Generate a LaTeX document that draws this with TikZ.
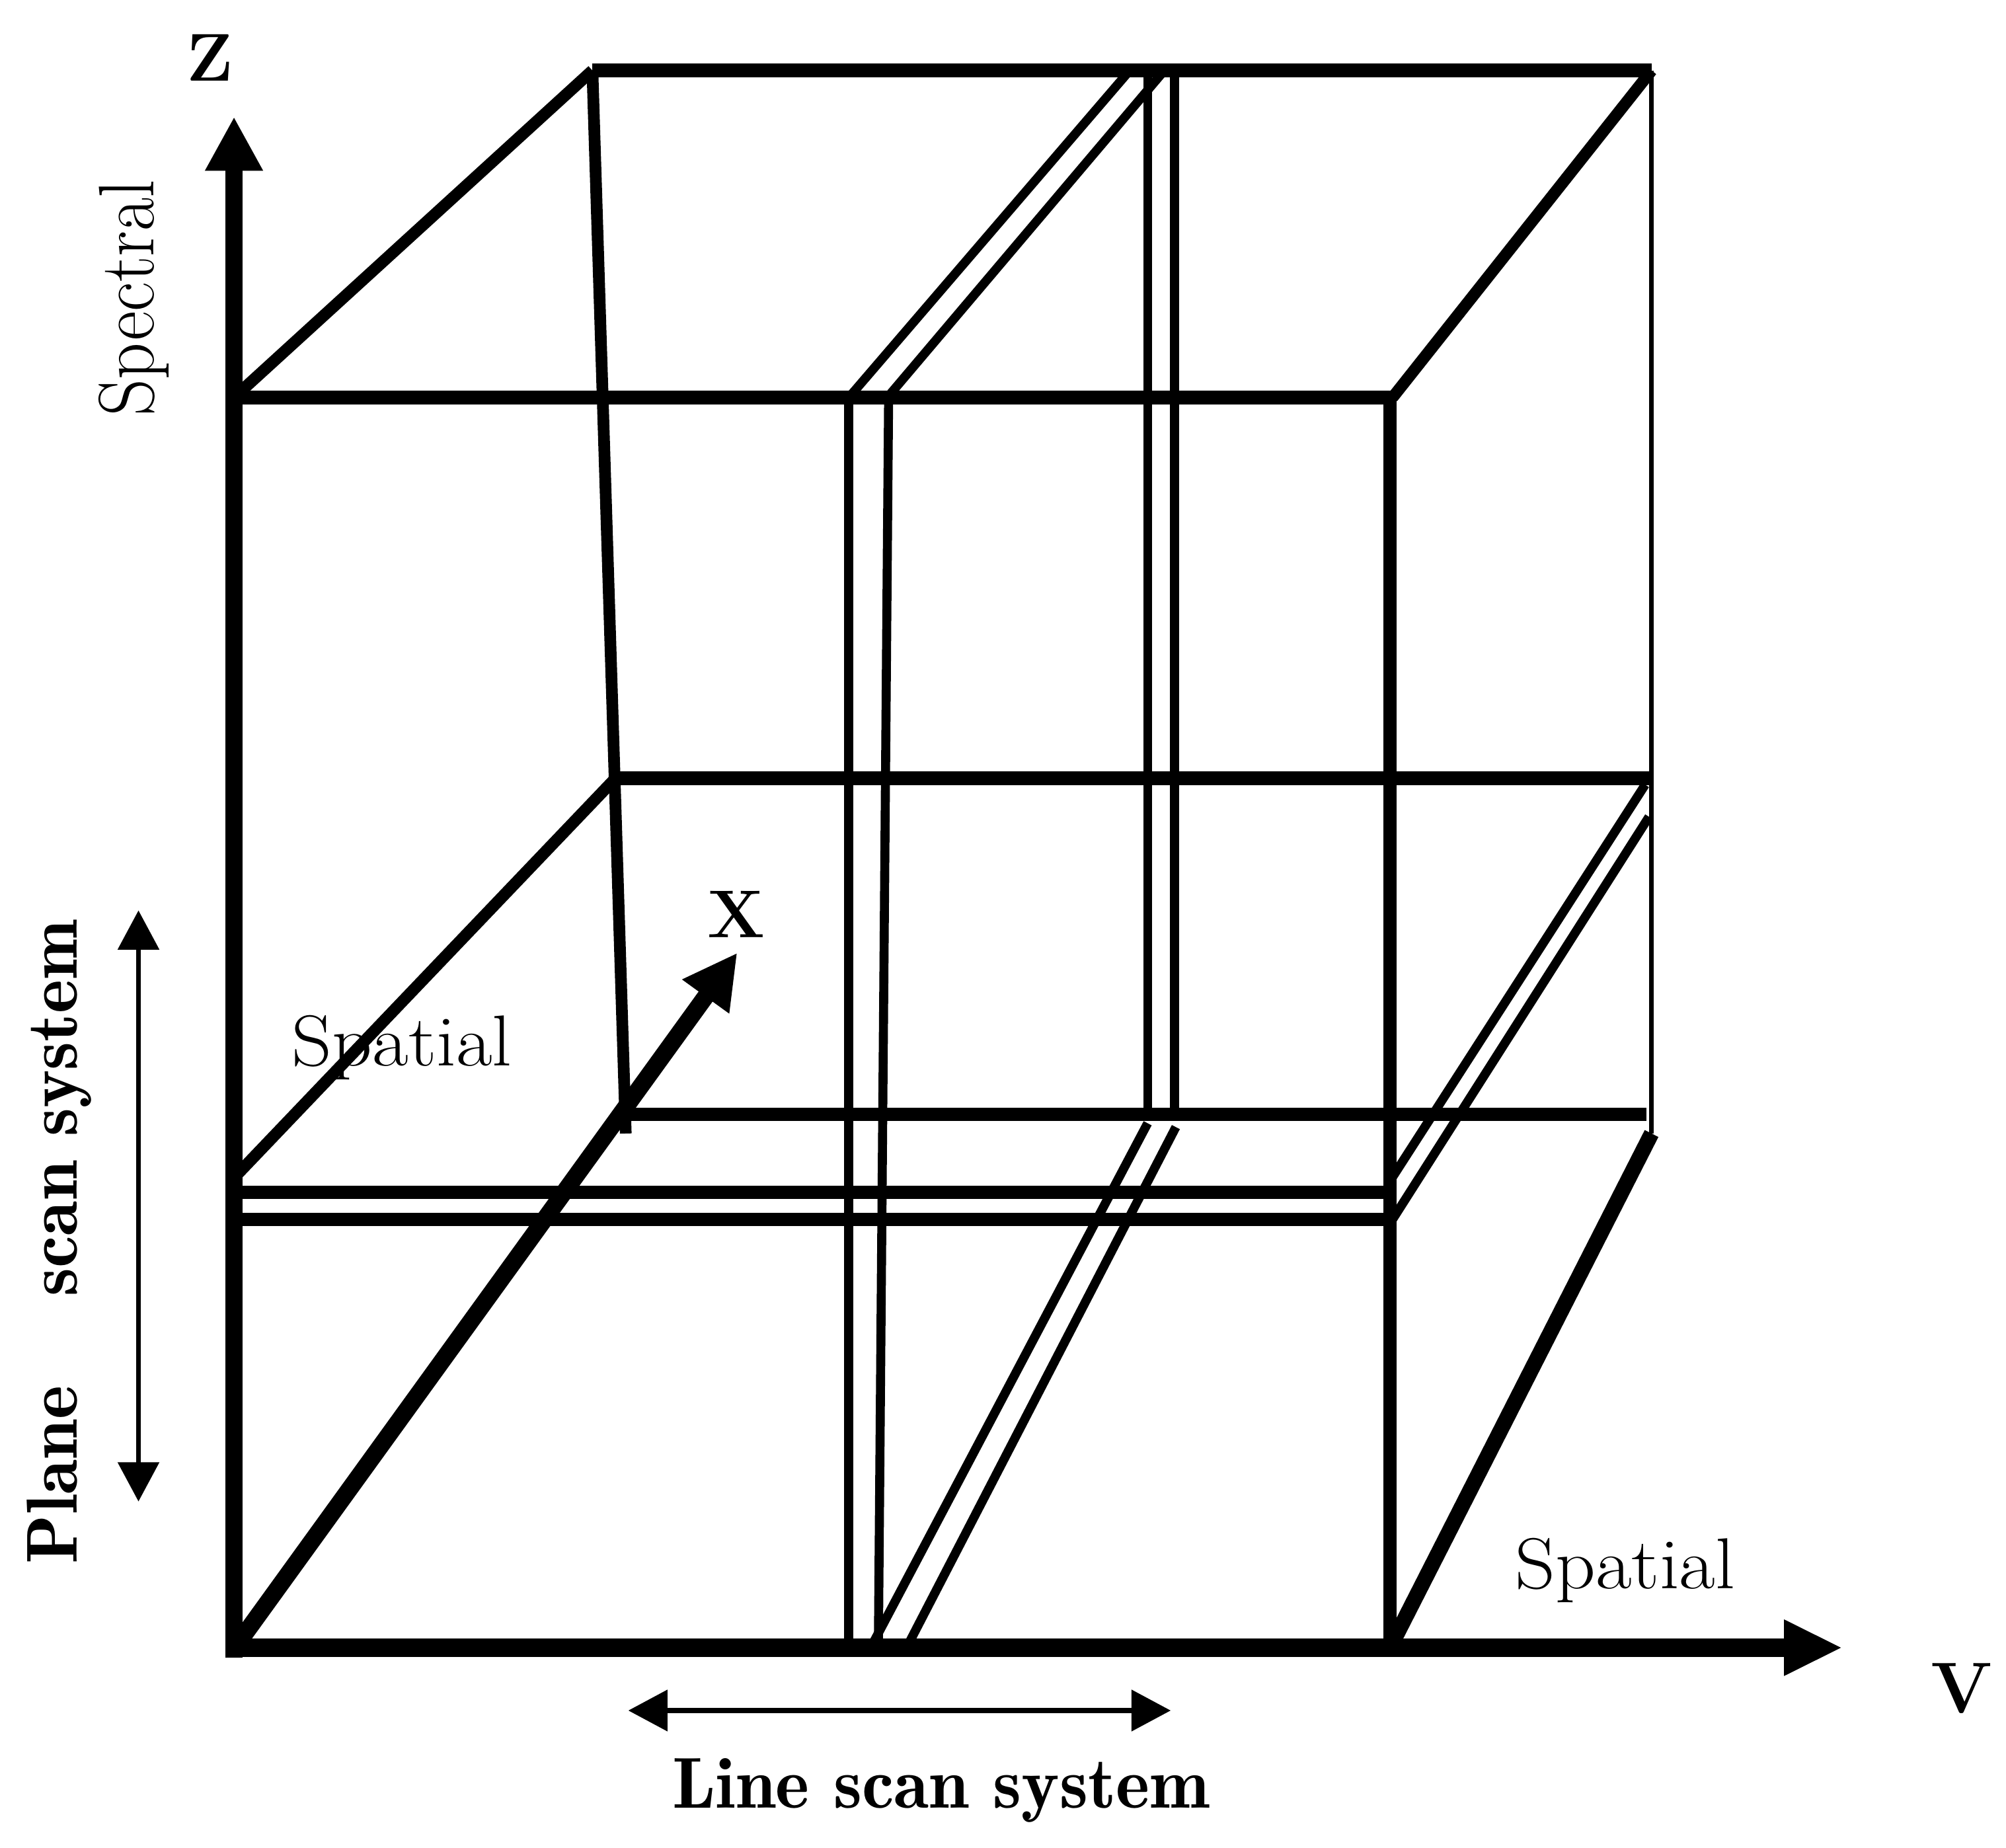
\documentclass[tikz,border=0pt]{standalone}
\usepackage{tikz}
\usetikzlibrary{arrows.meta}

\tikzset{
  axis/.style={line width=3.8pt, -{Triangle[length=12pt,width=12pt]}},
  heavy/.style={line width=3pt},
  slant/.style={line width=2.6pt},
  slice/.style={line width=2pt},
  scanarrow/.style={line width=1.1pt, {Triangle[length=8.7pt,width=9pt]}-{Triangle[length=8.7pt,width=9pt]}},
  lbl/.style={font=\fontsize{16}{19}\selectfont, inner sep=0pt, xscale=1.09},
  boldlbl/.style={font=\fontsize{16}{19}\fontseries{b}\selectfont, inner sep=0pt},
  axlbl/.style={font=\fontsize{15}{18}\selectfont\bfseries, inner sep=0pt}
}

\begin{document}
\begin{tikzpicture}[x=0.01cm, y=-0.01cm]
                \useasboundingbox (0,0) rectangle (1564.4,1441.2);

                % cube corners
                \coordinate (o) at (182.5,1285);
                \coordinate (ftl) at (182.5,310);
                \coordinate (ftr) at (1084,310);
                \coordinate (fbr) at (1084,1285);
                \coordinate (btl) at (462,55);
                \coordinate (btr) at (1288,55);
                \coordinate (bbr) at (1288,884);
                \coordinate (bbl) at (488,884);

                % axes
                \coordinate (zend) at (182.5,91);
                \coordinate (yend) at (1437,1285);
                \coordinate (xend) at (575,743);
                \draw[axis] (182.5,1293) -- (zend);
                \draw[line width=4pt, -{Triangle[length=13pt,width=11.5pt]}] (176,1285) -- (yend);
                \draw[axis] (186,1281) -- (xend);

                % outer frame
                \draw[heavy] (ftl) -- (1086,310);
                \draw[heavy] (ftr) -- (fbr);
                \draw[heavy] (btl) -- (btr);
                \draw[line width=1pt] (btr) -- (bbr);
                \draw[slant] (btl) -- (bbl);
                \draw[slant] (ftl) -- (btl);
                \draw[slant] (1086,310) -- (btr);
                \draw[line width=3.4pt] (fbr) -- (bbr);

                % horizontal slice (plane scan)
                \draw[heavy] (483,607) -- (1288,607);
                \draw[heavy] (488,869) -- (1284,869);
                \draw[slant] (183,918) -- (480,607);
                \draw[heavy] (183,930) -- (1084,930);
                \draw[heavy] (183,951) -- (1084,951);
                \draw[slice] (1283,612) -- (1086,918);
                \draw[slice] (1286,637) -- (1086,951);

                % vertical slice (line scan)
                \draw[slice] (662,310) -- (662,1285);
                \draw[slice] (693,310) -- (685,1285);
                \draw[slice] (895,55) -- (895,869);
                \draw[slice] (916,55) -- (916,869);
                \draw[slice] (662,310) -- (881,55);
                \draw[slice] (692,310) -- (908,55);
                \draw[slice] (679,1285) -- (895,876);
                \draw[slice] (707,1285) -- (917,879);

                % scan arrows
                \coordinate (pstop) at (108,710);
                \coordinate (psbot) at (108,1171);
                \coordinate (lsl) at (490,1334);
                \coordinate (lsr) at (913,1334);
                \draw[scanarrow] (pstop) -- (psbot);
                \draw[scanarrow] (lsl) -- (lsr);

                % labels
                \node[axlbl, anchor=base] (zlab) at (164,63) {Z};
                \node[axlbl, anchor=base] (xlab) at (574,731) {X};
                \node[axlbl, anchor=base, font=\fontsize{16}{19}\selectfont\bfseries] (vlab) at (1530,1336) {V};
                \node[lbl, anchor=base, rotate=90] (spectral) at (120,232.5) {Spectral};
                \node[lbl, anchor=base] (spatialx) at (313.5,831) {Spatial};
                \node[lbl, anchor=base] (spatialy) at (1267.5,1239) {Spatial};
                \node[boldlbl, anchor=base] (linescan) at (734,1410) {Line scan system};
                \node[boldlbl, anchor=base, rotate=90] (planescan) at (60,968.5) {\makebox[142.8pt]{Plane\hfill scan system}};
            \end{tikzpicture}
\end{document}
